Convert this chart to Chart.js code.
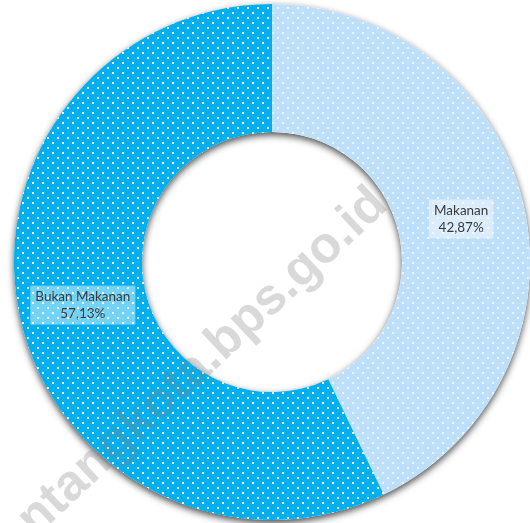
<!DOCTYPE html>
<html>
<head>
<meta charset="utf-8">
<script src="https://cdn.jsdelivr.net/npm/chart.js@4"></script>
<style>
  html, body { margin: 0; padding: 0; background: #ffffff; overflow: hidden; }
  #wrap { position: relative; width: 530px; height: 523px; overflow: hidden; }
  #pie { position: absolute; left: 0; top: 0; }
</style>
</head>
<body>
<div id="wrap"><canvas id="pie" width="544" height="524"></canvas></div>
<script>
// data
const categories = ['Makanan', 'Bukan Makanan'];
const shares = [42.87, 57.13];
const sliceColors = ['#BEDFFA', '#00AFEF'];
const dotAlpha = [0.7, 0.95];
const watermark = 'bontangkota.bps.go.id';

// white dotted fill, staggered rows like the office-style pattern
function dotPattern(base, alpha) {
    const tile = document.createElement('canvas');
    tile.width = 10;
    tile.height = 10;
    const t = tile.getContext('2d');
    t.fillStyle = base;
    t.fillRect(0, 0, 10, 10);
    t.fillStyle = 'rgba(255,255,255,' + alpha + ')';
    t.fillRect(2, 2, 2, 2);
    t.fillRect(7, 7, 2, 2);
    return document.createElement('canvas').getContext('2d').createPattern(tile, 'repeat');
}

function pct(v) {
    return v.toFixed(2).replace('.', ',') + '%';
}

// soft drop shadow under the whole ring
const ringShadow = {
    id: 'ringShadow',
    beforeDatasetsDraw(chart) {
        const arc = chart.getDatasetMeta(0).data[0];
        if (!arc) return;
        const ctx = chart.ctx;
        ctx.save();
        ctx.shadowColor = 'rgba(0,0,0,0.7)';
        ctx.shadowBlur = 7;
        ctx.shadowOffsetY = 3;
        ctx.fillStyle = '#ffffff';
        ctx.beginPath();
        ctx.arc(arc.x, arc.y, arc.outerRadius, 0, Math.PI * 2);
        ctx.arc(arc.x, arc.y, arc.innerRadius, 0, Math.PI * 2, true);
        ctx.fill();
        ctx.restore();
    }
};

// boxed two-line labels at each slice centre
const sliceLabels = {
    id: 'sliceLabels',
    afterDatasetsDraw(chart) {
        const ctx = chart.ctx;
        const meta = chart.getDatasetMeta(0);
        ctx.save();
        ctx.font = '13.5px Lato, "Open Sans", sans-serif';
        ctx.textAlign = 'center';
        ctx.textBaseline = 'middle';
        meta.data.forEach((arc, i) => {
            const p = arc.tooltipPosition();
            const lines = [categories[i], pct(shares[i])];
            const w = Math.max(...lines.map(s => ctx.measureText(s).width)) + 10;
            const h = 39;
            ctx.fillStyle = 'rgba(255,255,255,0.45)';
            ctx.fillRect(p.x - w / 2, p.y - h / 2, w, h);
            ctx.fillStyle = '#3a3a3a';
            ctx.fillText(lines[0], p.x, p.y - 8);
            ctx.fillText(lines[1], p.x, p.y + 9);
        });
        ctx.restore();
    }
};

// diagonal site watermark over everything
const siteMark = {
    id: 'siteMark',
    afterDraw(chart) {
        const ctx = chart.ctx;
        ctx.save();
        ctx.translate(380, 197);
        ctx.rotate(-43 * Math.PI / 180);
        ctx.font = 'bold 51px "Liberation Sans", Arial, sans-serif';
        ctx.textAlign = 'right';
        ctx.textBaseline = 'middle';
        ctx.fillStyle = 'rgba(130,130,130,0.3)';
        ctx.fillText(watermark, 0, 0);
        ctx.restore();
    }
};

new Chart(document.getElementById('pie'), {
    type: 'doughnut',
    data: {
        labels: categories,
        datasets: [{
            data: shares,
            backgroundColor: sliceColors.map((c, i) => dotPattern(c, dotAlpha[i])),
            borderWidth: 0,
            hoverBorderWidth: 0,
            offset: 0,
            hoverOffset: 0
        }]
    },
    options: {
        responsive: false,
        animation: false,
        cutout: '50.4%',
        rotation: 0,
        layout: { padding: { left: 14, right: 14, top: 4, bottom: 4 } },
        plugins: {
            legend: { display: false },
            tooltip: { enabled: false }
        }
    },
    plugins: [ringShadow, sliceLabels, siteMark]
});
</script>
</body>
</html>
